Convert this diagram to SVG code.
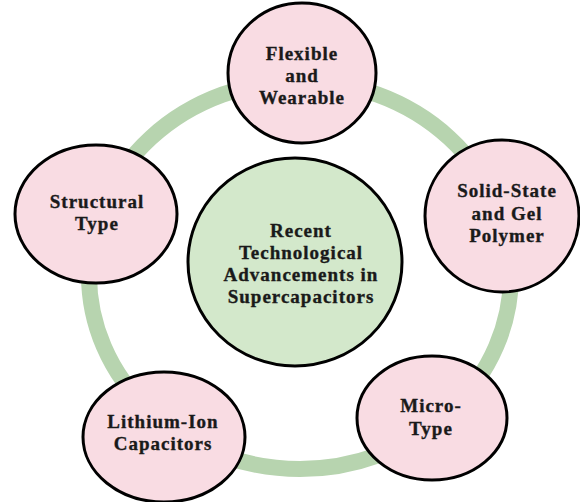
<svg xmlns="http://www.w3.org/2000/svg" width="580" height="502" viewBox="0 0 580 502">
<style>
.ring{fill:none;stroke:#b7d4af;stroke-width:16}
.node{fill:#f9dce3;stroke:#000;stroke-width:3}
.hub{fill:#d3e8cb;stroke:#000;stroke-width:3}
text{font-family:"Liberation Serif","Times New Roman",serif;font-weight:bold;font-size:19px;letter-spacing:1px;fill:#1a1a1a;stroke:#1a1a1a;stroke-width:0.35px;text-anchor:middle}
</style>
<rect width="580" height="502" fill="#fff"/>
<g id="connectors">
<ellipse class="ring" cx="300" cy="275" rx="211" ry="194"/>
</g>
<g id="center">
<ellipse class="hub" cx="295" cy="262" rx="107" ry="104"/>
<text x="301" y="237">Recent</text>
<text x="301" y="259">Technological</text>
<text x="301" y="281">Advancements in</text>
<text x="301" y="303">Supercapacitors</text>
</g>
<g id="flexible">
<ellipse class="node" cx="302" cy="73" rx="74" ry="70"/>
<text x="302" y="60">Flexible</text>
<text x="302" y="82">and</text>
<text x="302" y="104">Wearable</text>
</g>
<g id="solid-state">
<ellipse class="node" cx="502" cy="216" rx="77" ry="76"/>
<text x="507" y="197">Solid-State</text>
<text x="507" y="220">and Gel</text>
<text x="507" y="242">Polymer</text>
</g>
<g id="micro">
<ellipse class="node" cx="432" cy="418" rx="75" ry="62"/>
<text x="431" y="412">Micro-</text>
<text x="431" y="435">Type</text>
</g>
<g id="lithium">
<ellipse class="node" cx="164" cy="437" rx="81" ry="65"/>
<text x="163" y="428">Lithium-Ion</text>
<text x="163" y="450">Capacitors</text>
</g>
<g id="structural">
<ellipse class="node" cx="96" cy="214" rx="81" ry="69"/>
<text x="97" y="208">Structural</text>
<text x="97" y="230">Type</text>
</g>
</svg>
